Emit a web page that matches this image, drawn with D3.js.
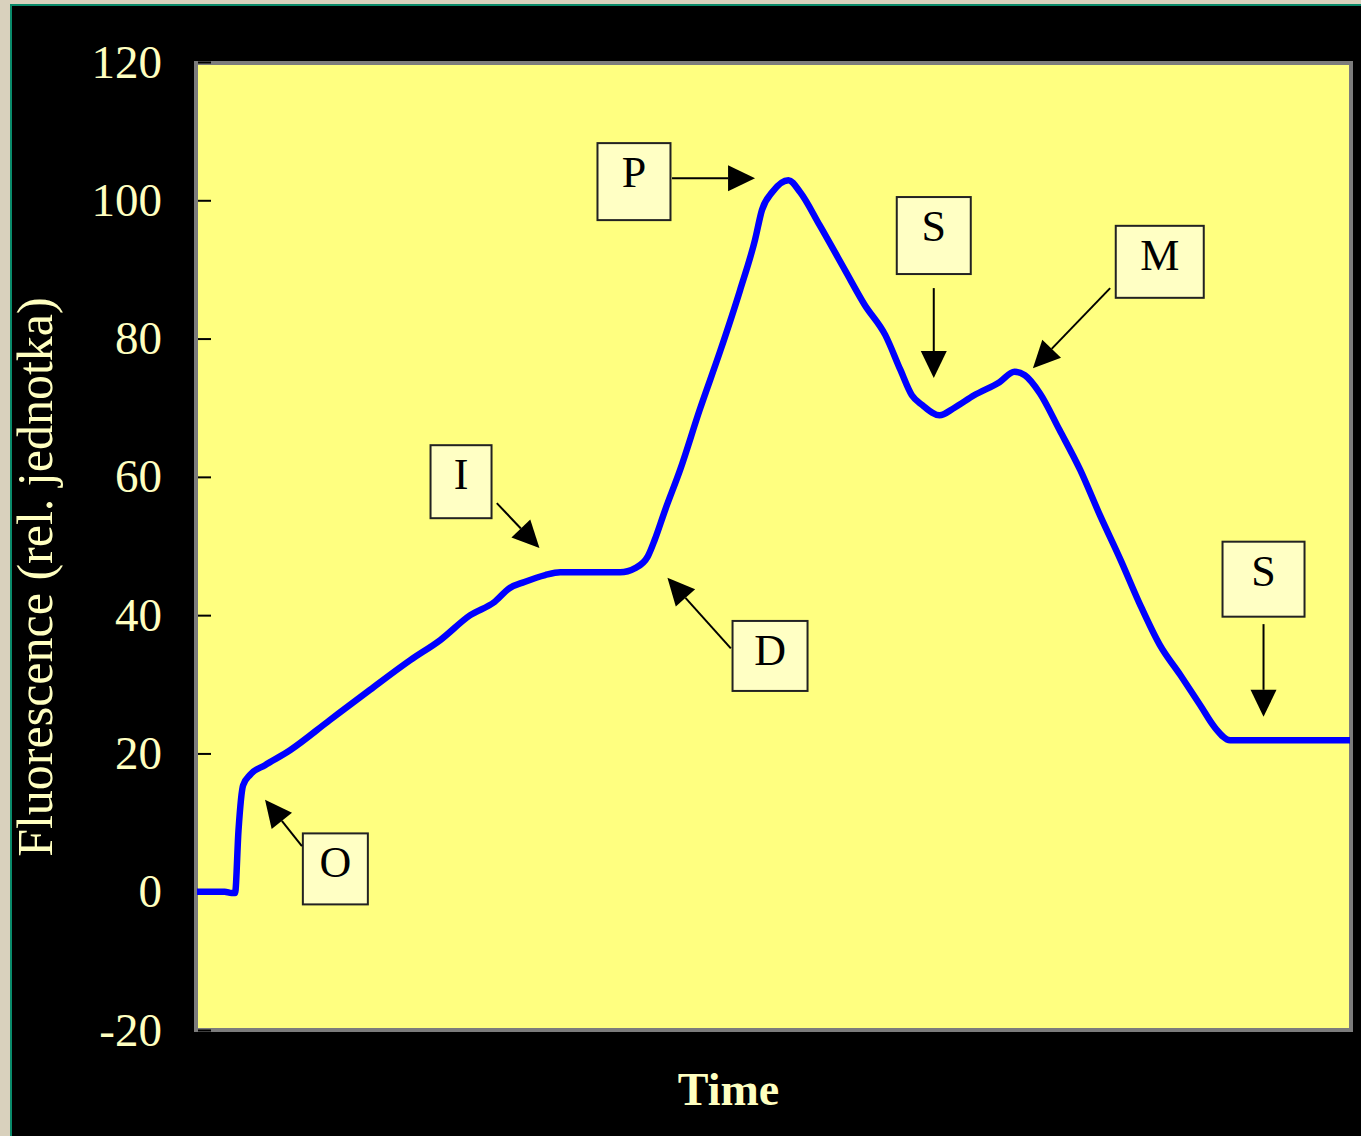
<!DOCTYPE html>
<html>
<head>
<meta charset="utf-8">
<script src="https://cdn.jsdelivr.net/npm/d3@7"></script>
<style>
  html, body { margin: 0; padding: 0; background: #d9d1bd; }
  #chart { width: 1361px; height: 1136px; }
</style>
</head>
<body>
<div id="chart"></div>
<script>
// Kautsky curve (relative units)
const timePoints = [0, 2.4, 3.0, 3.3, 3.6, 4.0, 4.6, 5.9, 8.1, 11.5, 15.0, 18.5, 21.1, 23.7, 25.8, 27.1,
    28.4, 30.2, 31.5, 36.7, 38.0, 39.1, 39.7, 40.6, 41.9, 43.6, 45.4, 47.1, 48.4, 49.0, 49.9, 51.3,
    52.3, 54.0, 56.2, 57.9, 59.7, 61.0, 62.0, 62.9, 64.4, 65.7, 67.4, 69.6, 70.9, 71.8, 73.1, 74.8,
    76.6, 78.3, 80.1, 81.8, 83.5, 85.3, 87.0, 88.3, 89.6, 100];
const fluorescence = [0, 0, -0.2, -0.2, 8.9, 15.4, 16.9, 18.3, 20.5, 24.8, 29.2, 33.5, 36.4, 40.0, 41.9, 43.9,
    44.8, 45.8, 46.2, 46.2, 46.8, 48.5, 50.9, 55.2, 61.0, 69.7, 78.3, 87.0, 94.3, 98.6, 101.2, 102.9,
    101.2, 96.4, 89.9, 84.9, 80.5, 75.5, 71.8, 70.4, 68.9, 70.0, 71.8, 73.7, 75.2, 74.7, 72.1, 66.8,
    61.0, 54.5, 48.0, 41.5, 35.7, 31.3, 27.0, 23.7, 21.9, 21.9];
const yTicks = [-20, 0, 20, 40, 60, 80, 100, 120];

// labelled points: box centre and arrow (from -> tip), all in data units
const labels = ["O", "I", "D", "P", "S", "M", "S"];
const labelBox = [[12.0, 3.3], [22.9, 59.3], [49.7, 34.1], [37.9, 102.7], [63.9, 94.9], [83.5, 91.1], [92.5, 45.2]];
const arrowFrom = [[9.1, 6.6], [26.0, 56.2], [46.3, 35.2], [41.2, 103.2], [63.9, 87.3], [79.2, 87.3], [92.5, 38.7]];
const arrowTip = [[5.9, 13.3], [29.7, 49.7], [40.8, 45.4], [48.4, 103.2], [63.9, 74.3], [72.5, 75.7], [92.5, 25.3]];

document.addEventListener("DOMContentLoaded", function () {
    const W = 1361, H = 1136;
    const margin = { top: 62, right: 11, bottom: 106, left: 197 },
        width = W - margin.left - margin.right,
        height = H - margin.top - margin.bottom;
    const serif = "'Liberation Serif', 'Times New Roman', serif";
    const pale = "#ffffc0";

    const root = d3.select("#chart").append("svg")
        .attr("width", W)
        .attr("height", H);

    // black slide with teal edge
    root.append("rect")
        .attr("x", 10).attr("y", 4)
        .attr("width", W - 10).attr("height", H - 4)
        .attr("fill", "#0a8a6a");
    root.append("rect")
        .attr("x", 12).attr("y", 6)
        .attr("width", W - 12).attr("height", H - 6)
        .attr("fill", "#000");

    const svg = root.append("g")
        .attr("transform", `translate(${margin.left},${margin.top})`);

    const xScale = d3.scaleLinear().domain([0, 100]).range([0, width]);
    const yScale = d3.scaleLinear().domain([-20, 120]).range([height, 0]);

    svg.append("rect")
        .attr("x", -1).attr("y", 1)
        .attr("width", width + 2).attr("height", height - 1)
        .attr("fill", "#ffff80")
        .attr("stroke", "#7c7c7c")
        .attr("stroke-width", 4);

    const yAxis = d3.axisLeft(yScale)
        .tickValues(yTicks)
        .tickSizeInner(-13)
        .tickSizeOuter(0)
        .tickPadding(35)
        .tickFormat(d => String(d));
    const gy = svg.append("g").attr("class", "y axis").call(yAxis);
    gy.select(".domain").remove();
    gy.selectAll(".tick line").attr("stroke", "#000").attr("stroke-width", 2).attr("x1", 1).attr("x2", 14);
    gy.selectAll(".tick text")
        .attr("fill", pale)
        .style("font-family", serif)
        .style("font-size", "47px");

    svg.append("text")
        .attr("text-anchor", "middle")
        .attr("transform", `translate(${-margin.left + 52},${yScale(45.5)}) rotate(-90)`)
        .attr("fill", pale)
        .style("font-family", serif)
        .style("font-size", "50px")
        .text("Fluorescence (rel. jednotka)");

    svg.append("text")
        .attr("text-anchor", "middle")
        .attr("x", xScale(46.1))
        .attr("y", height + 75)
        .attr("fill", pale)
        .style("font-family", serif)
        .style("font-size", "46px")
        .style("font-weight", "bold")
        .text("Time");

    const data = timePoints.map((t, i) => ({ t: t, v: fluorescence[i] }));
    const line = d3.line()
        .x(d => xScale(d.t))
        .y(d => yScale(d.v))
        .curve(d3.curveMonotoneX);
    svg.append("path")
        .datum(data)
        .attr("fill", "none")
        .attr("stroke", "#0000ff")
        .attr("stroke-width", 6.5)
        .attr("stroke-linejoin", "round")
        .attr("d", line);

    // annotation boxes and arrows
    const boxSize = { O: [65, 71], I: [61, 73], D: [75, 70], P: [73, 77], S: [74, 77], M: [88, 72] };
    labels.forEach((lab, i) => {
        const cx = xScale(labelBox[i][0]), cy = yScale(labelBox[i][1]);
        let [bw, bh] = boxSize[lab];
        if (i === 6) { bw = 82; bh = 75; }
        const g = svg.append("g").attr("class", "note");
        g.append("rect")
            .attr("x", cx - bw / 2).attr("y", cy - bh / 2)
            .attr("width", bw).attr("height", bh)
            .attr("fill", "#ffffc4")
            .attr("stroke", "#222")
            .attr("stroke-width", 2);
        g.append("text")
            .attr("x", cx).attr("y", cy - bh / 2 + 44)
            .attr("text-anchor", "middle")
            .attr("fill", "#000")
            .style("font-family", serif)
            .style("font-size", "44px")
            .text(lab);

        const x1 = xScale(arrowFrom[i][0]), y1 = yScale(arrowFrom[i][1]);
        const x2 = xScale(arrowTip[i][0]), y2 = yScale(arrowTip[i][1]);
        const ang = Math.atan2(y2 - y1, x2 - x1);
        const len = 27, half = 13;
        const bx = x2 - len * Math.cos(ang), by = y2 - len * Math.sin(ang);
        g.append("line")
            .attr("x1", x1).attr("y1", y1)
            .attr("x2", bx).attr("y2", by)
            .attr("stroke", "#000")
            .attr("stroke-width", 2);
        g.append("path")
            .attr("d", `M${x2},${y2}L${bx - half * Math.sin(ang)},${by + half * Math.cos(ang)}L${bx + half * Math.sin(ang)},${by - half * Math.cos(ang)}Z`)
            .attr("fill", "#000");
    });
});
</script>
</body>
</html>
